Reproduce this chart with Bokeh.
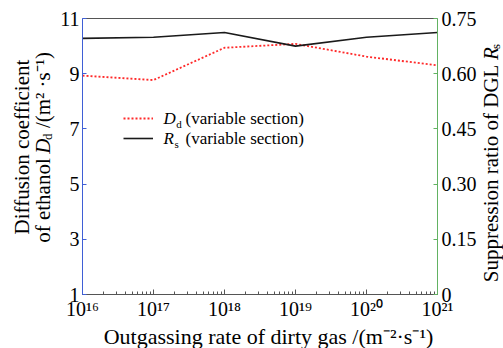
import math
from bokeh.plotting import figure
from bokeh.layouts import row, column
from bokeh.models import (Range1d, LinearAxis, LogTicker, FixedTicker,
                          CustomJSTickFormatter, Label, Legend, LegendItem)
from bokeh.core.properties import value
from bokeh.embed import file_html
from bokeh.resources import INLINE

# ---- data ----
rate = [1e16, 1e17, 1e18, 1e19, 1e20, 1e21]
dd = [8.93, 8.77, 9.94, 10.08, 9.62, 9.30]        # diffusion coefficient D_d
rs = [0.696, 0.699, 0.712, 0.675, 0.699, 0.712]   # suppression ratio R_s
left_ticks = [1, 3, 5, 7, 9, 11]
right_ticks = [0, 0.15, 0.30, 0.45, 0.60, 0.75]
right_labels = ["0", "0.15", "0.30", "0.45", "0.60", "0.75"]
x_label = "Outgassing rate of dirty gas /(m\u207b\u00b2\u00b7s\u207b\u00b9)"
left_label_1 = "Diffusion coefficient"
left_label_2a = "of ethanol"
left_label_2b = "/(m\u00b2 \u00b7s\u207b\u00b9)"
right_label_a = "Suppression ratio of DGL"
legend_tail = "(variable section)"

FONT = "Liberation Serif"
BLUE = "#3f5fd6"
GREEN = "#62b262"
AXGRAY = "#555555"
TS = 21    # title font size
TK = "20px"

# ---------------- main plot ----------------
p = figure(width=423, height=322, x_axis_type="log",
           x_range=Range1d(1e16, 1e21), y_range=Range1d(1, 11),
           output_backend="svg", toolbar_location=None,
           min_border_left=26, min_border_right=42,
           min_border_top=18, min_border_bottom=24)
p.extra_y_ranges = {"r": Range1d(0, 0.75)}
p.grid.visible = False
p.outline_line_color = None

red = p.line(rate, dd, line_color="#ff2a2a", line_width=1.8, line_dash="2 2")
blk = p.line(rate, rs, line_color="#1a1a1a", line_width=1.6, y_range_name="r")

xa = p.xaxis[0]
xa.ticker = LogTicker(num_minor_ticks=10)
xa.formatter = CustomJSTickFormatter(code="""
const sup = {"0":"\u2070","1":"\u00b9","2":"\u00b2","3":"\u00b3","4":"\u2074","5":"\u2075","6":"\u2076","7":"\u2077","8":"\u2078","9":"\u2079"};
const e = Math.round(Math.log10(tick)).toString();
let s = "";
for (const c of e) s += sup[c];
return "10" + s;
""")
xa.axis_line_color = AXGRAY
xa.major_tick_line_color = AXGRAY
xa.minor_tick_line_color = AXGRAY
xa.major_tick_in = 5
xa.major_tick_out = 0
xa.minor_tick_in = 3
xa.minor_tick_out = 0
xa.major_label_standoff = 3
xa.major_label_text_font = FONT
xa.major_label_text_font_size = TK
xa.major_label_text_color = "black"

ya = p.yaxis[0]
ya.ticker = FixedTicker(ticks=left_ticks)
ya.axis_line_color = BLUE
ya.major_tick_line_color = BLUE
ya.major_tick_in = 4
ya.major_tick_out = 0
ya.minor_tick_line_color = None
ya.major_label_standoff = 3
ya.major_label_text_font = FONT
ya.major_label_text_font_size = TK
ya.major_label_text_color = "black"

ra = LinearAxis(y_range_name="r", ticker=FixedTicker(ticks=right_ticks),
                formatter=CustomJSTickFormatter(
                    args=dict(tvals=right_ticks, tlabels=right_labels),
                    code="""
let best = 0, dmin = 1e9;
for (let i = 0; i < tvals.length; i++) {
  const dd = Math.abs(tvals[i] - tick);
  if (dd < dmin) { dmin = dd; best = i; }
}
return tlabels[best];
"""))
ra.axis_line_color = GREEN
ra.major_tick_line_color = GREEN
ra.major_tick_in = 4
ra.major_tick_out = 0
ra.minor_tick_line_color = None
ra.major_label_standoff = 4
ra.major_label_text_font = FONT
ra.major_label_text_font_size = TK
ra.major_label_text_color = "black"
p.add_layout(ra, "right")

ta = LinearAxis(ticker=FixedTicker(ticks=[]), major_tick_in=0, major_tick_out=0,
                minor_tick_in=0, minor_tick_out=0, major_label_standoff=0,
                axis_line_color=AXGRAY)
p.add_layout(ta, "above")

legend = Legend(items=[LegendItem(label=" ", renderers=[red]),
                       LegendItem(label=" ", renderers=[blk])],
                location=(41, 146), glyph_width=30, glyph_height=20,
                label_height=20, label_width=1, padding=0, margin=0, spacing=0,
                label_standoff=0, border_line_color=None, background_fill_alpha=0,
                label_text_font_size="8px")
p.add_layout(legend)

def lab(text, x, y, size, style="normal"):
    p.add_layout(Label(x=x, y=y, x_units="screen", y_units="screen", text=text,
                       text_font=FONT, text_font_size=f"{size}px", text_font_style=style,
                       text_align="left", text_baseline="middle", text_color="black"))

LS = 17
for sym, sub, w, yy in (("D", "d", 0.722, 176), ("R", "s", 0.611, 156)):
    lab(sym, 81, yy, LS, "italic")
    lab(sub, 81 + w * LS + 0.5, yy - 5, 11)
    lab(legend_tail, 103, yy, LS)

# ---------------- title panels ----------------
def panel(w, h):
    f = figure(width=w, height=h, x_range=Range1d(0, w), y_range=Range1d(0, h),
               x_axis_location=None, y_axis_location=None,
               output_backend="svg", toolbar_location=None,
               min_border=0, min_border_left=0, min_border_right=0,
               min_border_top=0, min_border_bottom=0)
    f.grid.visible = False
    f.outline_line_color = None
    return f

def txt(f, text, x, y, size, style="normal", align="left", angle=0.0):
    f.text(x=[x], y=[y], text=[text], angle=angle, text_font=value(FONT),
           text_font_size=value(f"{size}px"), text_font_style=style,
           text_align=align, text_baseline="middle", text_color="black")

A = math.pi / 2
SUB = 13
GAP = 0.25 * TS

# left title (rotated, reads upward)
lf = panel(56, 322)
txt(lf, left_label_1, 21, 172, TS, align="center", angle=A)
wA = 4.027 * TS
wD = 0.722 * TS
wd = 0.5 * SUB
wB = 3.5 * TS
gap2 = GAP + 3
start = 171 - (wA + GAP + wD + wd + gap2 + wB) / 2
P = start + wA
txt(lf, left_label_2a, 42, P, TS, align="right", angle=A)
txt(lf, "D", 42, P + GAP, TS, style="italic", angle=A)
txt(lf, "d", 47, P + GAP + wD + 1, SUB, angle=A)
txt(lf, left_label_2b, 42, P + GAP + wD + wd + gap2, TS, angle=A)

# right title
rf = panel(24, 322)
wR = 10.455 * TS
wRi = 0.611 * TS
ws = 0.389 * SUB
start = 170 - (wR + GAP + wRi + ws) / 2
Q = start + wR
txt(rf, right_label_a, 11, Q, TS, align="right", angle=A)
txt(rf, "R", 11, Q + GAP, TS, style="italic", angle=A)
txt(rf, "s", 16, Q + GAP + wRi, SUB, angle=A)

# bottom title
bf = panel(503, 26)
txt(bf, x_label, 268, 12, 22, align="center")

layout = column(row(lf, p, rf, spacing=0), bf, spacing=0)
open("out.html", "w").write(file_html(layout, INLINE))
